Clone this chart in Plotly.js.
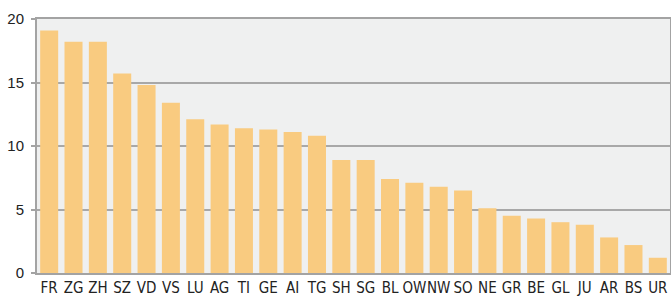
<!DOCTYPE html>
<html>
<head>
<meta charset="utf-8">
<script src="https://cdn.plot.ly/plotly-3.0.1.min.js"></script>
<style>html,body{margin:0;padding:0;background:#fff;}#chart{width:671px;height:296px;}</style>
</head>
<body>
<div id="chart"></div>
<script>
const cantons = ["FR","ZG","ZH","SZ","VD","VS","LU","AG","TI","GE","AI","TG","SH","SG","BL","OW","NW","SO","NE","GR","BE","GL","JU","AR","BS","UR"];
const values = [19.1,18.2,18.2,15.7,14.8,13.4,12.1,11.7,11.4,11.3,11.1,10.8,8.9,8.9,7.4,7.1,6.8,6.5,5.1,4.5,4.3,4.0,3.8,2.8,2.2,1.2];
const yTicks = [0,5,10,15,20];

const yfont = {family: "Liberation Sans, Arial, sans-serif", size: 15, color: "#222"};
const xfont = {family: "DejaVu Sans Condensed, Liberation Sans, sans-serif", size: 15, color: "#222"};

Plotly.newPlot("chart", [{
  type: "bar",
  x: cantons,
  y: values,
  marker: {color: "#f9cb80", line: {width: 0}},
  hoverinfo: "none"
}], {
  width: 671, height: 296,
  margin: {l: 37, r: 1, t: 19, b: 23, pad: 0},
  paper_bgcolor: "#ffffff",
  plot_bgcolor: "#eff0f0",
  bargap: 0.26,
  showlegend: false,
  font: yfont,
  xaxis: {
    type: "category",
    showline: true, linecolor: "#a3a3a3", linewidth: 2, mirror: true,
    ticks: "", showgrid: false, zeroline: false,
    tickangle: 0,
    tickfont: xfont,
    ticklabelstandoff: 0,
    automargin: false
  },
  yaxis: {
    range: [0, 20],
    tickvals: yTicks,
    ticktext: yTicks.map(String),
    showline: true, linecolor: "#a3a3a3", linewidth: 2, mirror: true,
    ticks: "outside", ticklen: 4, tickwidth: 2, tickcolor: "#a3a3a3",
    showgrid: true, gridcolor: "#a8a8a8", gridwidth: 2,
    zeroline: false,
    tickfont: yfont,
    ticklabelstandoff: 4,
    automargin: false
  }
}, {staticPlot: true, displayModeBar: false});
</script>
</body>
</html>
